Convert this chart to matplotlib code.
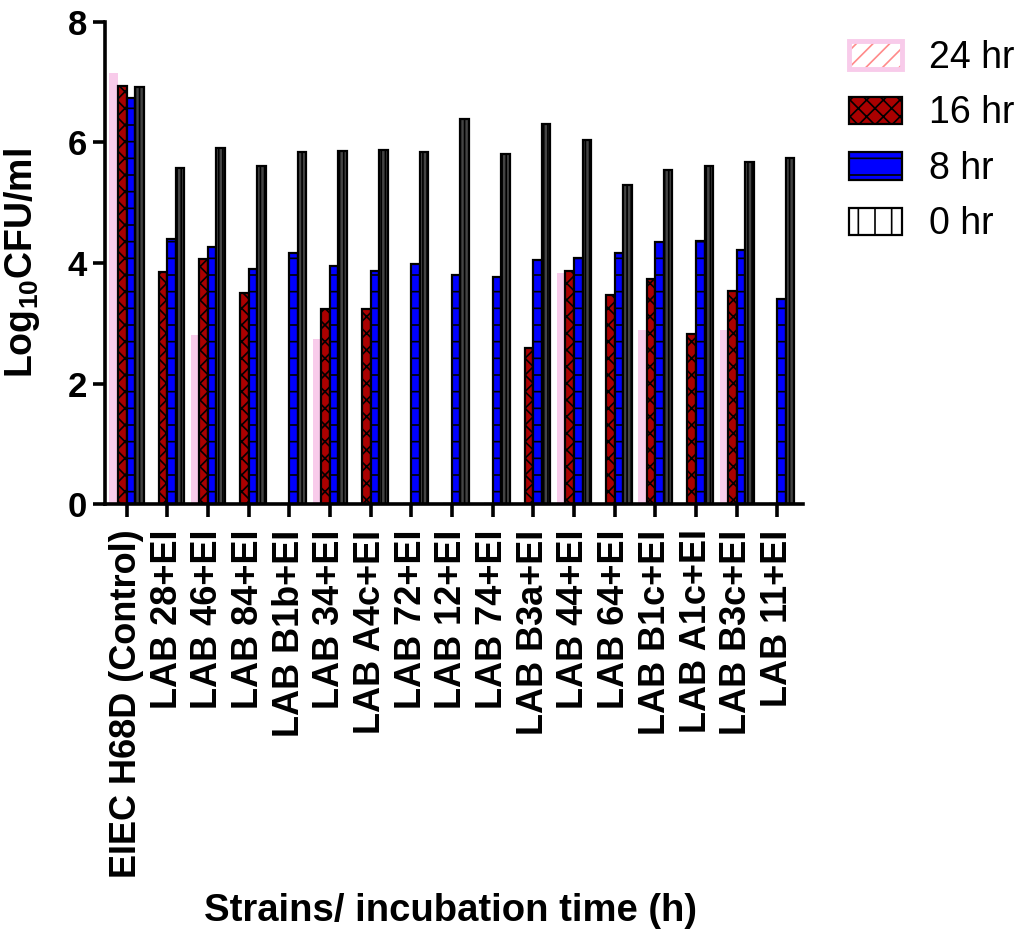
import numpy as np
import matplotlib
matplotlib.use("Agg")
import matplotlib.pyplot as plt
from matplotlib.patches import Patch
from matplotlib.legend_handler import HandlerTuple

plt.rcParams["font.family"] = ["Liberation Sans", "DejaVu Sans"]
plt.rcParams["mathtext.fontset"] = "custom"
plt.rcParams["mathtext.rm"] = "Liberation Sans:bold"
plt.rcParams["mathtext.bf"] = "Liberation Sans:bold"
plt.rcParams["hatch.linewidth"] = 1.2

strains = ["EIEC H68D (Control)", "LAB 28+EI", "LAB 46+EI", "LAB 84+EI", "LAB B1b+EI",
           "LAB 34+EI", "LAB A4c+EI", "LAB 72+EI", "LAB 12+EI", "LAB 74+EI",
           "LAB B3a+EI", "LAB 44+EI", "LAB 64+EI", "LAB B1c+EI", "LAB A1c+EI",
           "LAB B3c+EI", "LAB 11+EI"]

# log10 CFU/ml per strain at each incubation time
hr24 = [7.14, 0, 2.81, 0, 0, 2.74, 0, 0, 0, 0, 0, 3.84, 0, 2.89, 0, 2.89, 0]
hr16 = [6.93, 3.85, 4.06, 3.50, 0, 3.24, 3.24, 0, 0, 0, 2.59, 3.87, 3.47, 3.73, 2.83, 3.54, 0]
hr8 = [6.74, 4.39, 4.27, 3.90, 4.17, 3.95, 3.87, 3.99, 3.80, 3.77, 4.05, 4.08, 4.16, 4.35, 4.36, 4.21, 3.40]
hr0 = [6.92, 5.58, 5.91, 5.60, 5.84, 5.86, 5.87, 5.84, 6.39, 5.80, 6.31, 6.04, 5.29, 5.54, 5.60, 5.67, 5.74]

PINK = "#f8cbea"
SALMON = "#ff8a8a"
DARKRED = "#aa0000"
BLUE = "#0000ff"

fig = plt.figure(figsize=(10.22, 9.4), dpi=100)
ax = fig.add_axes([0.1027, 0.4633, 0.683, 0.5138])

x = np.arange(len(strains))
w = 0.21
ax.bar(x - 1.5 * w, hr24, w, color=PINK, linewidth=0, zorder=2)
ax.bar(x - 0.5 * w, hr16, w, facecolor=DARKRED, edgecolor="black", hatch="xx",
       linewidth=1.6, zorder=2)
ax.bar(x + 0.5 * w, hr8, w, facecolor=BLUE, edgecolor="black", hatch="-",
       linewidth=1.6, zorder=2)
ax.bar(x + 1.5 * w, hr0, w, facecolor="#444444", edgecolor="black", hatch="||||",
       linewidth=1.6, zorder=2)

ax.set_xlim(-0.53, 16.63)
ax.set_ylim(0, 8)
ax.set_yticks([0, 2, 4, 6, 8])
ax.set_xticks(x)
ax.set_xticklabels(strains, rotation=90, fontsize=26, fontweight="bold", va="top")
for lab in ax.get_yticklabels():
    lab.set_fontsize(25)
    lab.set_fontweight("bold")

for side in ("top", "right"):
    ax.spines[side].set_visible(False)
for side in ("left", "bottom"):
    ax.spines[side].set_linewidth(2.6)
ax.tick_params(axis="both", length=9, width=2.6)
ax.tick_params(axis="x", pad=9)
ax.tick_params(axis="y", pad=4)

ax.set_ylabel(r"Log$_{10}$CFU/ml", fontsize=27, fontweight="bold")
ax.yaxis.set_label_coords(-0.090, 0.5)
fig.text(0.441, 0.012, "Strains/ incubation time (h)", fontsize=27.5,
         fontweight="bold", ha="center", va="bottom")

# legend, newest time point first
h24 = (Patch(facecolor="white", edgecolor=SALMON, hatch="//", linewidth=0),
       Patch(facecolor="none", edgecolor=PINK, linewidth=3.5))
h16 = Patch(facecolor=DARKRED, edgecolor="black", hatch="xx", linewidth=1.6)
h8 = Patch(facecolor=BLUE, edgecolor="black", hatch="-", linewidth=1.6)
h0 = Patch(facecolor="white", edgecolor="black", hatch="|", linewidth=1.6)
fig.legend([h24, h16, h8, h0], ["24 hr", "16 hr", "8 hr", "0 hr"],
           handler_map={tuple: HandlerTuple(ndivide=1, pad=0)},
           loc="upper left", bbox_to_anchor=(0.798, 0.9935), frameon=False,
           fontsize=27, handlelength=1.41, handleheight=0.75,
           handletextpad=0.72, labelspacing=0.52, borderpad=0.4)

fig.savefig("out.png", dpi=100)
